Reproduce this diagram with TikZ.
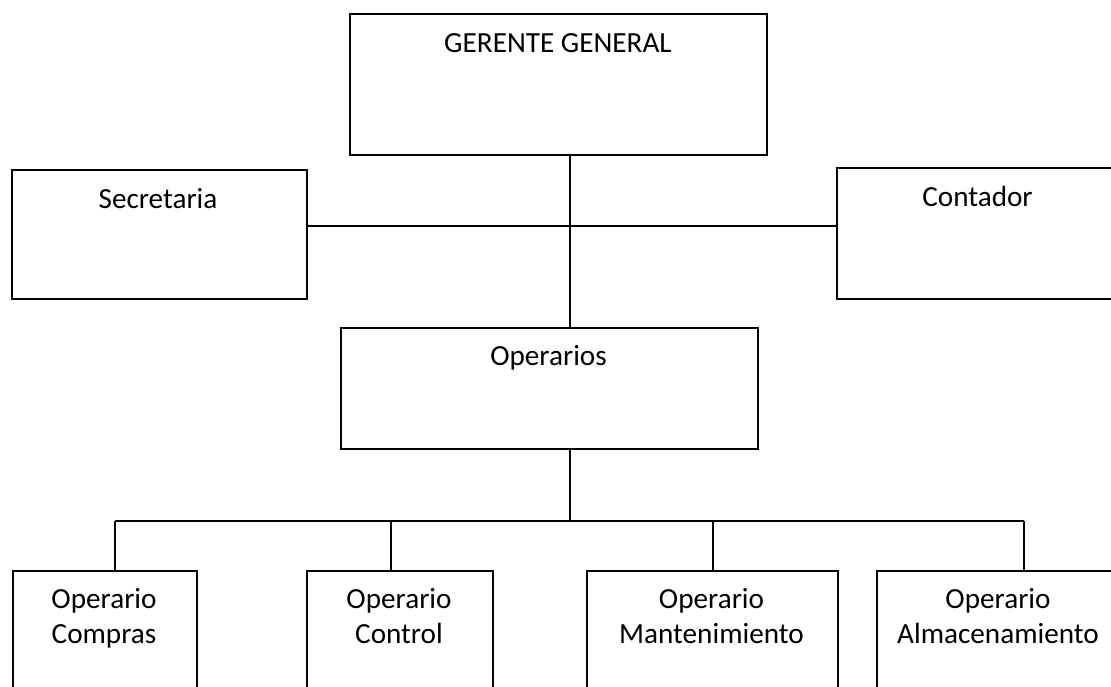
\documentclass[tikz,border=0pt]{standalone}
\usepackage{fontspec}
\setmainfont{Carlito}
\begin{document}
\begin{tikzpicture}[x=1pt,y=-1pt,
  orgbox/.style={draw=black,line width=1.9pt,anchor=north west,inner sep=0pt,
    minimum width=#1},
  orgbox/.default=100pt,
  lbl/.style={anchor=base,inner sep=0pt,align=center,
    font=\fontsize{29.2}{35}\selectfont},
  link/.style={draw=black,line width=1.9pt}]
\useasboundingbox (0,0) rectangle (1111,686);
\clip (0,0) rectangle (1111,686);
\fill[white] (0,0) rectangle (1111,686);

% boxes (top-left corner, width, height)
\node[orgbox=417pt,minimum height=141pt] (gg)   at (349,13)  {};
\node[orgbox=295pt,minimum height=129pt] (sec)  at (11,169)  {};
\node[orgbox=284pt,minimum height=131pt] (con)  at (836,167) {};
\node[orgbox=417pt,minimum height=121pt] (ope)  at (340,327) {};
\node[orgbox=184pt,minimum height=140pt] (oc)   at (12,570)  {};
\node[orgbox=186pt,minimum height=140pt] (octl) at (306,570) {};
\node[orgbox=251pt,minimum height=140pt] (om)   at (586,570) {};
\node[orgbox=244pt,minimum height=140pt] (oa)   at (876,570) {};

% labels (two-line labels sit on the baseline of their last line)
\node[lbl] (tgg)   at (558,52)    {GERENTE GENERAL};
\node[lbl] (tsec)  at (158,208)   {Secretaria};
\node[lbl] (tcon)  at (977.5,206) {Contador};
\node[lbl] (tope)  at (548.5,365) {Operarios};
\node[lbl] (toc)   at (104,643)   {Operario\\Compras};
\node[lbl] (toctl) at (399,643)   {Operario\\Control};
\node[lbl] (tom)   at (711.5,643) {Operario\\Mantenimiento};
\node[lbl] (toa)   at (998,643)   {Operario\\Almacenamiento};

% junction points
\coordinate (hub) at (570,226);
\coordinate (bus) at (570,521);
\coordinate (b1) at (115,521);
\coordinate (b2) at (391,521);
\coordinate (b3) at (713,521);
\coordinate (b4) at (1024,521);

% connectors
\path[link] (sec.east |- hub) -- (con.west |- hub);
\path[link] (gg.south -| hub) -- (ope.north -| hub);
\path[link] (ope.south -| bus) -- (bus);
\path[link] (b1) -- (b4);
\path[link] (b1) -- (oc.north -| b1);
\path[link] (b2) -- (octl.north -| b2);
\path[link] (b3) -- (om.north -| b3);
\path[link] (b4) -- (oa.north -| b4);
\end{tikzpicture}
\end{document}
